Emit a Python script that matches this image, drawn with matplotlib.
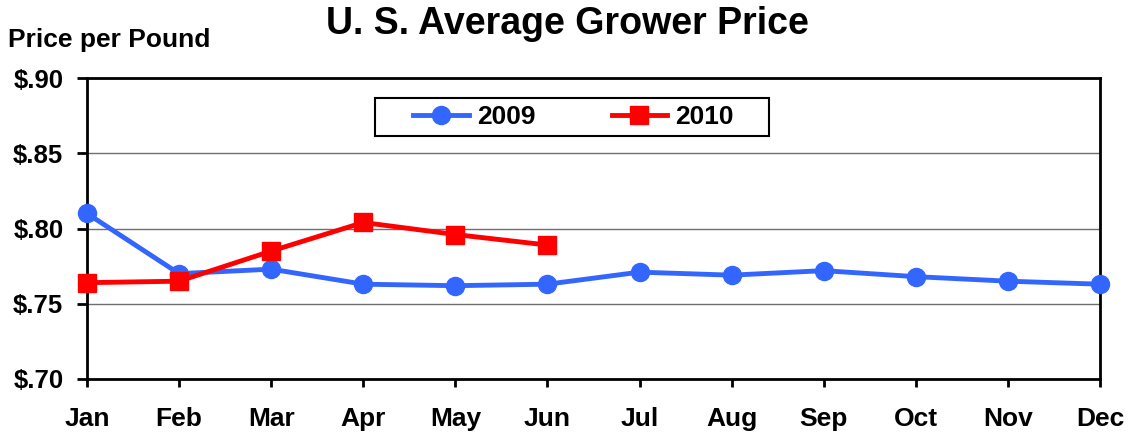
import matplotlib
matplotlib.use("Agg")
import matplotlib.pyplot as plt
from matplotlib.ticker import FuncFormatter
from matplotlib.patches import Rectangle

plt.rcParams['font.family'] = ['Liberation Sans', 'DejaVu Sans']
plt.rcParams['font.weight'] = 'bold'

months = ["Jan", "Feb", "Mar", "Apr", "May", "Jun", "Jul", "Aug", "Sep", "Oct", "Nov", "Dec"]
price_2009 = [0.810, 0.770, 0.773, 0.763, 0.762, 0.763, 0.771, 0.769, 0.772, 0.768, 0.765, 0.763]
price_2010 = [0.764, 0.765, 0.785, 0.804, 0.796, 0.789]
y_ticks = [0.70, 0.75, 0.80, 0.85, 0.90]

W, H = 1131, 432
fig = plt.figure(figsize=(W/100, H/100), dpi=100)
ax = fig.add_axes([87/W, 1-379/H, 1013/W, 301/H])

x09 = list(range(len(price_2009)))
x10 = list(range(len(price_2010)))
ax.plot(x09, price_2009, color='#3366FF', lw=3.5, marker='o', ms=13, label='2009',
        zorder=3, clip_on=False)
ax.plot(x10, price_2010, color='#FF0000', lw=3.5, marker='s', ms=12.5, label='2010',
        zorder=4, clip_on=False)

ax.set_xlim(0, 11)
ax.set_ylim(0.70, 0.90)
ax.set_xticks(range(12))
ax.set_xticklabels(months, fontsize=19, fontweight='bold')
ax.set_yticks(y_ticks)
ax.yaxis.set_major_formatter(FuncFormatter(lambda v, p: "$" + ("%.2f" % v)[1:]))
for lbl in ax.get_yticklabels():
    lbl.set_fontsize(18.5)
    lbl.set_fontweight('bold')
ax.tick_params(axis='x', direction='out', length=6, width=2, color='black', pad=14)
ax.tick_params(axis='y', direction='out', length=7, width=2, color='black', pad=10)
ax.grid(axis='y', color='#6E6E6E', lw=1)
ax.set_axisbelow(True)
for s in ['left', 'bottom', 'top', 'right']:
    ax.spines[s].set_linewidth(2)

# legend frame
ax.add_patch(Rectangle((375/W, 1-136/H), 394/W, 38/H, transform=fig.transFigure,
                       fill=True, facecolor='white', edgecolor='black', lw=1.5,
                       zorder=5, clip_on=False))
leg = ax.legend(loc='center', bbox_to_anchor=(573.5/W, 1-117/H), bbox_transform=fig.transFigure,
                ncol=2, frameon=False, handlelength=2.1, handletextpad=0.3,
                columnspacing=2.9, borderpad=0.2, prop={'weight': 'bold', 'size': 19})
leg.set_zorder(6)

fig.text(567/W, 1-24/H, "U. S. Average Grower Price", ha='center', va='center',
         fontsize=27, fontweight='bold')
fig.text(8/W, 1-40/H, "Price per Pound", ha='left', va='center',
         fontsize=19, fontweight='bold')

fig.savefig("out.png", dpi=100)
